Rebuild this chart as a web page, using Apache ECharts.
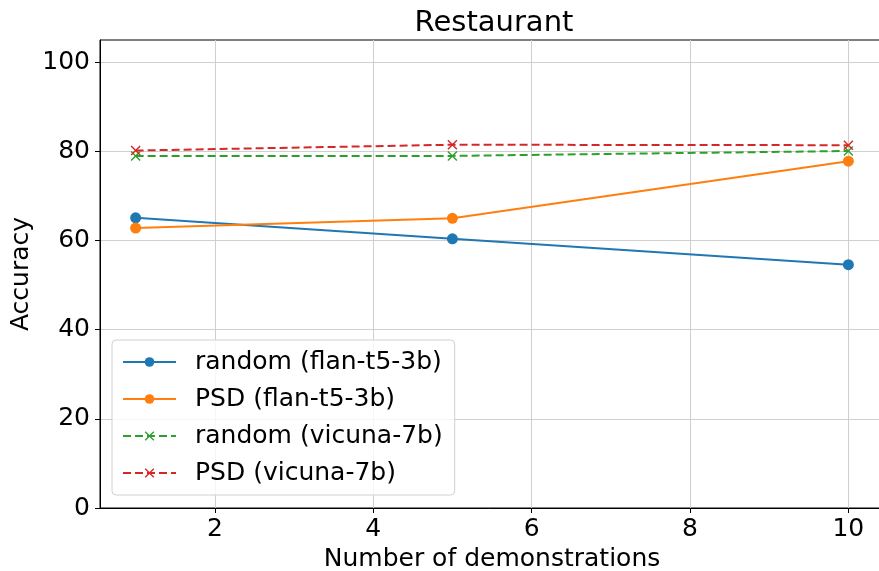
<!DOCTYPE html>
<html>
<head>
<meta charset="utf-8">
<script src="https://cdn.jsdelivr.net/npm/echarts@6/dist/echarts.min.js"></script>
<style>
  html, body { margin: 0; padding: 0; background: #fff; }
  #chart { width: 879px; height: 571px; }
</style>
</head>
<body>
<div id="chart"></div>
<script>
// Number of demonstrations
const shots = [1, 5, 10];
// Accuracy per setting
const randomFlan = [65.1, 60.4, 54.6];
const psdFlan = [62.8, 65.0, 77.8];
const randomVicuna = [79.0, 79.0, 80.1];
const psdVicuna = [80.2, 81.5, 81.4];
const xTicks = [2, 4, 6, 8, 10];
const yTicks = [0, 20, 40, 60, 80, 100];

const FONT = 'DejaVu Sans';
const crossPath = 'path://M0,1 L1,0 L5,4 L9,0 L10,1 L6,5 L10,9 L9,10 L5,6 L1,10 L0,9 L4,5 Z';

function pairs(vals) {
  return shots.map((s, i) => [s, vals[i]]);
}

function lineSeries(name, vals, color, dashed) {
  return {
    name: name,
    type: 'line',
    data: pairs(vals),
    symbol: dashed ? crossPath : 'circle',
    symbolSize: dashed ? 10 : 11,
    showSymbol: true,
    lineStyle: { color: color, width: 2, type: dashed ? [8, 4] : 'solid' },
    itemStyle: { color: color },
    emphasis: { disabled: true },
    animation: false
  };
}

const chart = echarts.init(document.getElementById('chart'));
chart.setOption({
  animation: false,
  title: {
    text: 'Restaurant',
    left: 489,
    textAlign: 'center',
    top: 4,
    textStyle: { fontFamily: FONT, fontSize: 29, fontWeight: 'normal', color: '#000' }
  },
  grid: {
    left: 100, top: 40, width: 784, height: 468,
    outerBoundsMode: 'none',
    containLabel: false,
    show: true, borderColor: '#000', borderWidth: 1, backgroundColor: 'transparent'
  },
  xAxis: {
    type: 'value',
    min: 0.55,
    max: 10.45,
    splitNumber: 5,
    name: 'Number of demonstrations',
    nameLocation: 'middle',
    nameGap: 38,
    nameTextStyle: { fontFamily: FONT, fontSize: 25, color: '#000' },
    axisLine: { show: true, onZero: false, lineStyle: { color: '#000' } },
    axisTick: { show: true, inside: false, length: 5, customValues: xTicks, lineStyle: { color: '#000' } },
    axisLabel: {
      fontFamily: FONT, fontSize: 25, color: '#000', margin: 9,
      customValues: xTicks,
      formatter: v => String(v)
    },
    splitLine: { show: true, lineStyle: { color: '#cfcfcf', width: 1 } }
  },
  yAxis: {
    type: 'value',
    min: 0,
    max: 105,
    interval: 20,
    name: 'Accuracy',
    nameLocation: 'middle',
    nameGap: 66,
    nameMoveOverlap: false,
    nameTextStyle: { fontFamily: FONT, fontSize: 25, color: '#000' },
    axisLine: { show: true, lineStyle: { color: '#000' } },
    axisTick: { show: true, inside: false, length: 5, customValues: yTicks, lineStyle: { color: '#000' } },
    axisLabel: {
      fontFamily: FONT, fontSize: 25, color: '#000', margin: 10,
      customValues: yTicks,
      formatter: v => String(v)
    },
    splitLine: { show: true, lineStyle: { color: '#cfcfcf', width: 1 } }
  },
  legend: {
    orient: 'vertical',
    left: 112,
    top: 340,
    itemWidth: 53,
    itemHeight: 12,
    itemGap: 11,
    padding: [9, 12, 9, 10],
    backgroundColor: 'rgba(255,255,255,0.8)',
    borderColor: '#d0d0d0',
    borderWidth: 1,
    borderRadius: 4,
    textStyle: { fontFamily: FONT, fontSize: 25, lineHeight: 26, color: '#000', padding: [0, 0, 0, 14] },
    data: ['random (flan-t5-3b)', 'PSD (flan-t5-3b)', 'random (vicuna-7b)', 'PSD (vicuna-7b)']
  },
  series: [
    lineSeries('random (flan-t5-3b)', randomFlan, '#1f77b4', false),
    lineSeries('PSD (flan-t5-3b)', psdFlan, '#ff7f0e', false),
    lineSeries('random (vicuna-7b)', randomVicuna, '#2ca02c', true),
    lineSeries('PSD (vicuna-7b)', psdVicuna, '#d62728', true)
  ]
});
</script>
</body>
</html>
